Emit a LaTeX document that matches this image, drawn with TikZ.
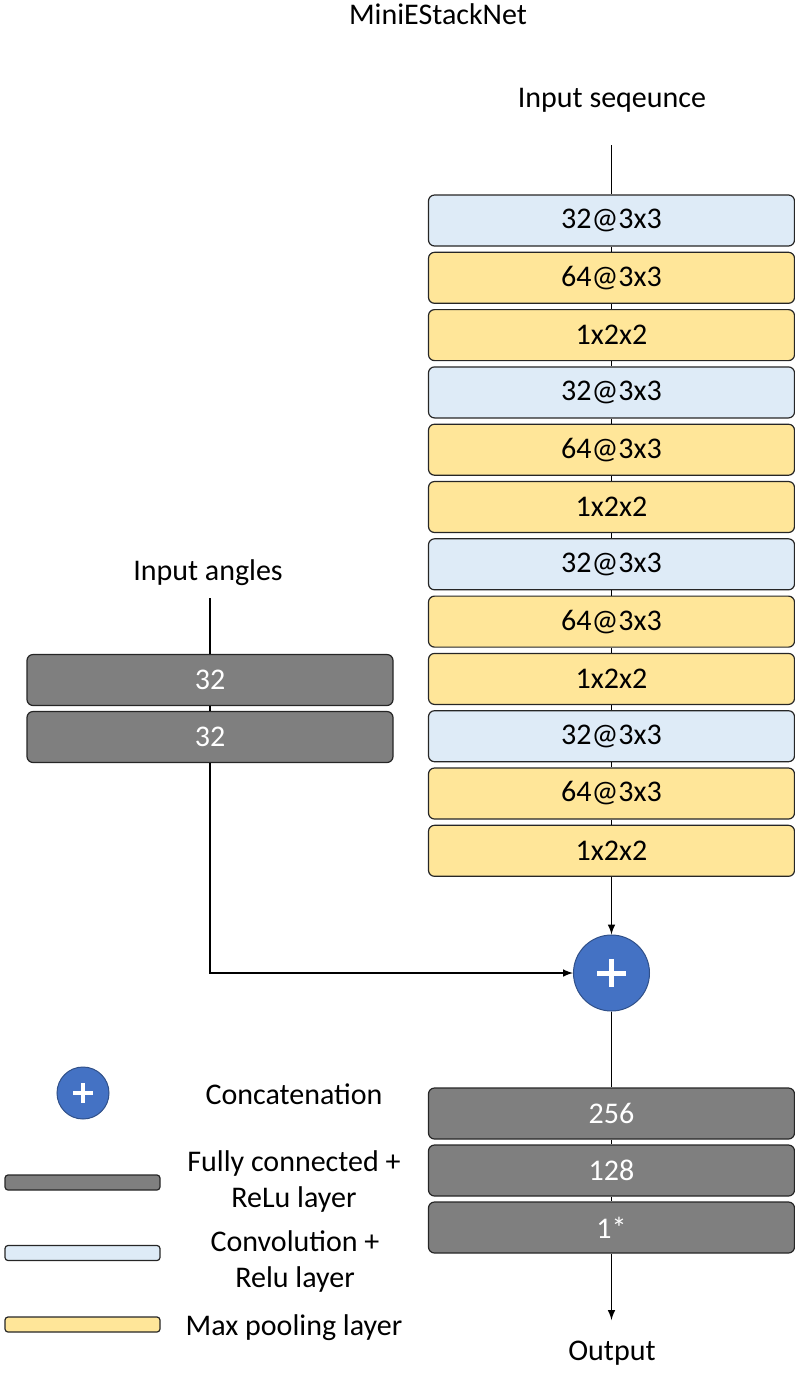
\documentclass[tikz,border=0pt]{standalone}
\usepackage{fontspec}
\setmainfont{Carlito}
\usetikzlibrary{calc}
\definecolor{convblue}{HTML}{DEEBF7}
\definecolor{poolyellow}{HTML}{FFE699}
\definecolor{fcgray}{HTML}{7F7F7F}
\definecolor{plusblue}{HTML}{4472C4}
\begin{document}
\begin{tikzpicture}[>=latex, x=0.5pt, y=-0.5pt, font=\fontsize{15}{18}\selectfont]

    % estilos
    \tikzstyle{layer}=[rectangle, rounded corners=3pt, draw=black!85, line width=0.6pt, minimum width=183pt, minimum height=25.5pt, inner sep=0pt]
    \tikzstyle{conv}=[layer, fill=convblue]
    \tikzstyle{pool}=[layer, fill=poolyellow]
    \tikzstyle{fc}=[layer, fill=fcgray, text=white]
    \tikzstyle{concat}=[circle, draw=plusblue!70!black, line width=0.5pt, fill=plusblue, inner sep=0pt,
        path picture={
            \draw[white, line width=2.5pt] ($(path picture bounding box.center)!0.37!(path picture bounding box.west)$) -- ($(path picture bounding box.center)!0.37!(path picture bounding box.east)$);
            \draw[white, line width=2.5pt] ($(path picture bounding box.center)!0.37!(path picture bounding box.north)$) -- ($(path picture bounding box.center)!0.37!(path picture bounding box.south)$);
        }]
    \tikzstyle{legconcat}=[circle, draw=plusblue!70!black, line width=0.5pt, fill=plusblue, inner sep=0pt,
        path picture={
            \draw[white, line width=2pt] ($(path picture bounding box.center)!0.38!(path picture bounding box.west)$) -- ($(path picture bounding box.center)!0.38!(path picture bounding box.east)$);
            \draw[white, line width=2pt] ($(path picture bounding box.center)!0.38!(path picture bounding box.north)$) -- ($(path picture bounding box.center)!0.38!(path picture bounding box.south)$);
        }]
    \tikzstyle{legbar}=[rectangle, rounded corners=1.5pt, draw=black!85, line width=0.6pt, minimum width=77.5pt, minimum height=7.5pt, inner sep=0pt]
    \tikzstyle{conn}=[line width=0.7pt]

    \useasboundingbox (0,0) rectangle (795,1373);

    % titulo y entradas
    \node (title) at (438,14) {MiniEStackNet};
    \node (seqlbl) at (612,100) {Input seqeunce};
    \node (anglbl) at (208,573) {Input angles};
    \coordinate (seqtop) at (611.5,145);
    \coordinate (angtop) at (210,598);

    % rama de la secuencia
    \node[conv] (m1) at (611.5,220.5) {32@3x3};
    \node[pool] (m2) at (611.5,277.8) {64@3x3};
    \node[pool] (m3) at (611.5,335.1) {1x2x2};
    \node[conv] (m4) at (611.5,392.4) {32@3x3};
    \node[pool] (m5) at (611.5,449.7) {64@3x3};
    \node[pool] (m6) at (611.5,507.0) {1x2x2};
    \node[conv] (m7) at (611.5,564.3) {32@3x3};
    \node[pool] (m8) at (611.5,621.6) {64@3x3};
    \node[pool] (m9) at (611.5,678.9) {1x2x2};
    \node[conv] (m10) at (611.5,736.2) {32@3x3};
    \node[pool] (m11) at (611.5,793.5) {64@3x3};
    \node[pool] (m12) at (611.5,850.8) {1x2x2};

    % rama de los angulos
    \node[fc] (a1) at (210,680) {32};
    \node[fc] (a2) at (210,737) {32};

    % concatenacion y salida
    \node[concat, minimum size=38pt] (plus) at (611.5,973) {};
    \node[fc] (o1) at (611.5,1113.5) {256};
    \node[fc] (o2) at (611.5,1170.5) {128};
    \node[fc] (o3) at (611.5,1227.5) {1*};
    \coordinate (outend) at (611.5,1320);
    \node (outlbl) at (612,1353) {Output};

    % conexiones
    \draw[conn] (seqtop) -- (m1);
    \foreach \i/\j in {1/2,2/3,3/4,4/5,5/6,6/7,7/8,8/9,9/10,10/11,11/12}
        \draw[conn] (m\i) -- (m\j);
    \draw[conn] (angtop) -- (a1);
    \draw[conn] (a1) -- (a2);
    \draw[conn, ->] (m12) -- (plus);
    \draw[conn, ->] (a2.south) |- (plus.west);
    \draw[conn] (plus) -- (o1);
    \draw[conn] (o1) -- (o2);
    \draw[conn] (o2) -- (o3);
    \draw[conn, ->] (o3) -- (outend);

    % leyenda
    \node[legconcat, minimum size=26pt] (legplus) at (83,1093) {};
    \node (legconcattxt) at (294,1094) {Concatenation};
    \node[legbar, fill=fcgray] (legfc) at (82.5,1182.5) {};
    \node[align=center] (legfctxt) at (294,1181) {Fully connected +\\ReLu layer};
    \node[legbar, fill=convblue] (legconv) at (82.5,1253) {};
    \node[align=center] (legconvtxt) at (295,1261) {Convolution +\\Relu layer};
    \node[legbar, fill=poolyellow] (legpool) at (82.5,1324.5) {};
    \node (legpooltxt) at (294,1328) {Max pooling layer};

\end{tikzpicture}
\end{document}
